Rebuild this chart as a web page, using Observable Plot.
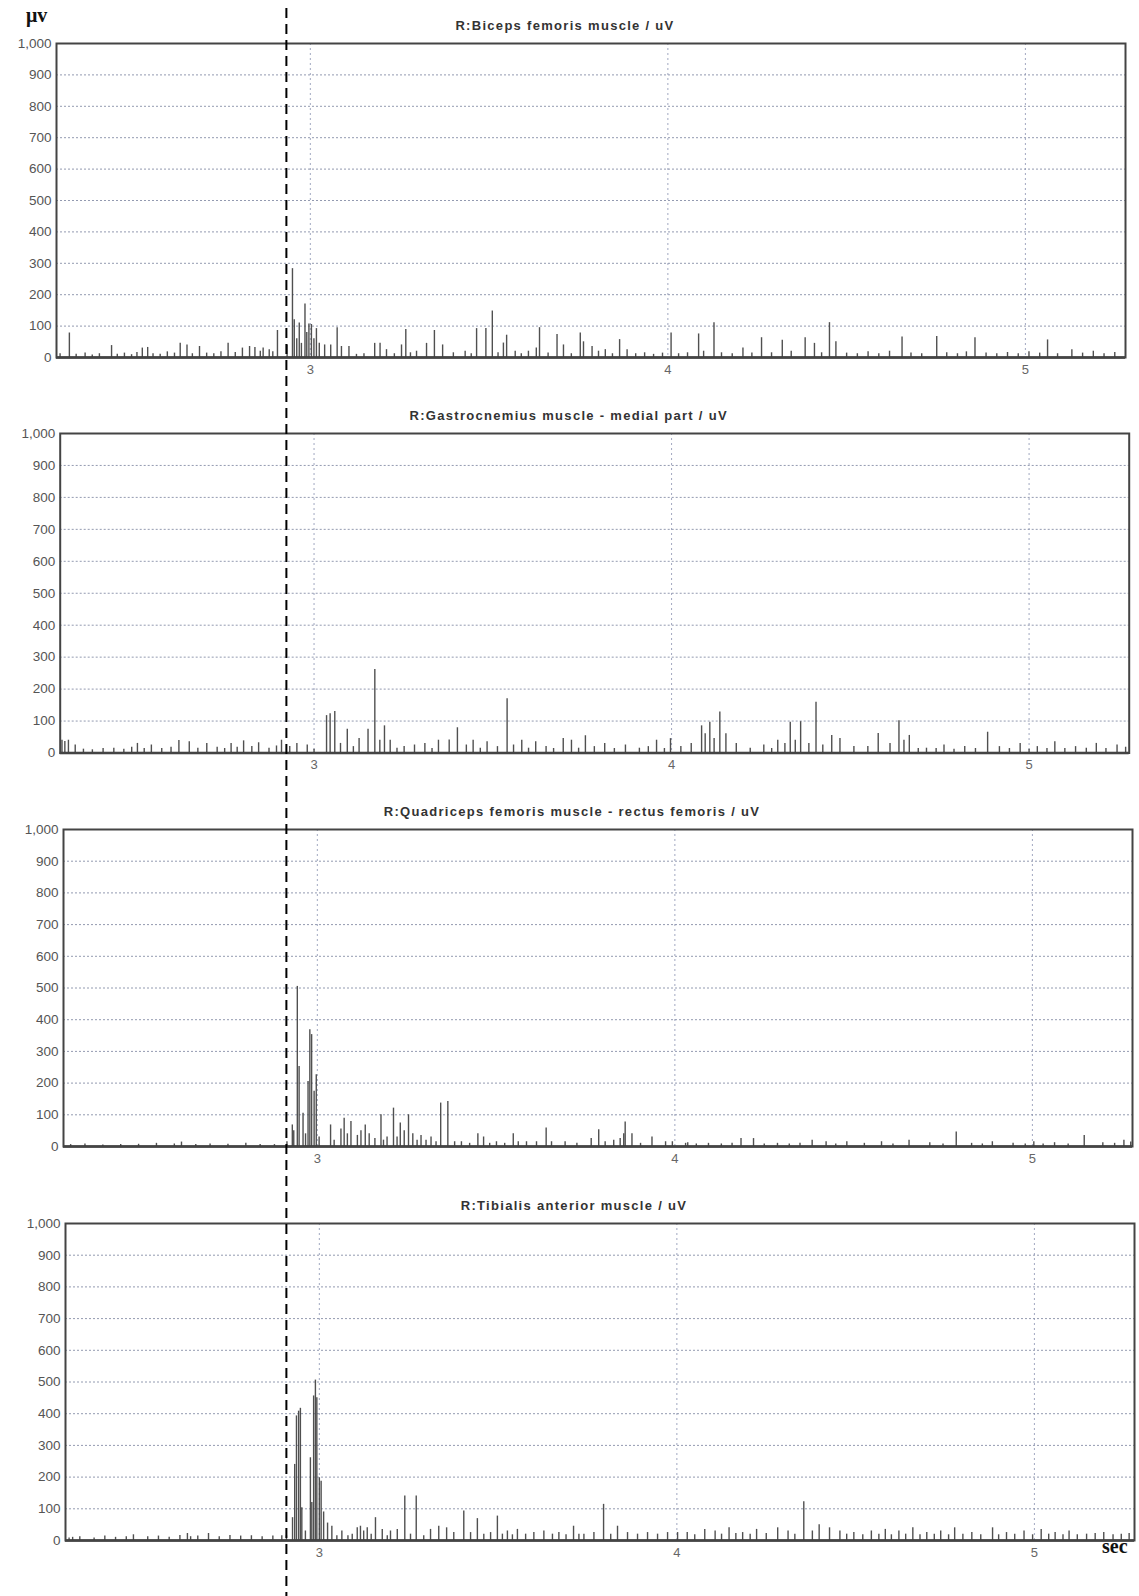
<!DOCTYPE html>
<html><head><meta charset="utf-8">
<script src="https://cdn.jsdelivr.net/npm/d3@7"></script>
<script src="https://cdn.jsdelivr.net/npm/@observablehq/plot@0.6"></script>
<style>
body{margin:0;background:#fff;}
#page{position:relative;width:1139px;height:1596px;overflow:hidden;font-family:Arial,"Liberation Sans",sans-serif;}
#page svg{position:absolute;left:0;}
.unit{position:absolute;font-family:"Liberation Serif","DejaVu Serif",serif;font-weight:bold;font-size:20px;color:#111;line-height:1;}
</style></head><body><div id="page"></div>
<script>
// ---------- data ----------
const panelTitles = [
  "R:Biceps femoris muscle / uV",
  "R:Gastrocnemius muscle - medial part / uV",
  "R:Quadriceps femoris muscle - rectus femoris / uV",
  "R:Tibialis anterior muscle / uV"
];
const yTicks = [0,100,200,300,400,500,600,700,800,900,1000];
const xTicks = [3,4,5];
const xDomain = [2.29, 5.28];
const yDomain = [0, 1000];
const markerTime = 2.933;
const yUnit = "μv";
const xUnit = "sec";

// [time (s), amplitude (uV)]
const biceps = [
 [2.300,12],[2.326,78],[2.345,10],[2.370,14],[2.390,8],[2.410,12],[2.444,38],[2.460,10],[2.480,14],[2.500,9],
 [2.515,16],[2.530,30],[2.545,32],[2.560,12],[2.580,10],[2.600,18],[2.620,14],[2.636,45],[2.655,40],[2.670,12],
 [2.690,35],[2.710,14],[2.730,12],[2.750,18],[2.770,45],[2.790,16],[2.810,30],[2.830,35],[2.845,32],[2.860,20],
 [2.868,30],[2.885,25],[2.895,18],[2.908,86],[2.935,40],[2.950,283],[2.955,120],[2.962,60],[2.969,110],[2.975,45],
 [2.985,170],[2.990,80],[2.996,107],[3.003,105],[3.010,60],[3.017,92],[3.025,45],[3.040,40],[3.057,40],[3.075,95],
 [3.087,35],[3.108,35],[3.129,10],[3.150,12],[3.180,45],[3.195,45],[3.213,25],[3.235,12],[3.255,40],[3.267,89],
 [3.280,15],[3.297,20],[3.325,45],[3.347,86],[3.370,40],[3.400,15],[3.433,20],[3.450,12],[3.465,92],[3.491,92],
 [3.509,148],[3.525,15],[3.540,46],[3.549,71],[3.573,20],[3.590,12],[3.610,20],[3.632,30],[3.641,95],[3.665,14],
 [3.690,73],[3.708,40],[3.730,12],[3.755,78],[3.764,50],[3.788,35],[3.806,20],[3.825,25],[3.845,12],[3.865,57],
 [3.886,25],[3.910,12],[3.935,15],[3.960,10],[3.985,14],[4.009,78],[4.030,12],[4.055,15],[4.086,75],[4.100,20],
 [4.129,111],[4.150,15],[4.180,12],[4.210,30],[4.235,14],[4.262,63],[4.290,15],[4.320,55],[4.345,20],[4.384,63],
 [4.410,45],[4.430,15],[4.452,111],[4.470,50],[4.500,14],[4.530,12],[4.560,18],[4.590,12],[4.620,20],[4.655,65],
 [4.680,14],[4.710,12],[4.752,67],[4.780,15],[4.810,12],[4.835,18],[4.859,63],[4.890,14],[4.920,12],[4.950,16],
 [4.980,12],[5.010,18],[5.040,14],[5.062,56],[5.090,12],[5.130,25],[5.160,14],[5.190,20],[5.220,12],[5.250,16]
];
const gastrocnemius = [
 [2.295,40],[2.303,36],[2.313,40],[2.332,25],[2.355,12],[2.380,10],[2.410,14],[2.440,15],[2.468,12],[2.490,18],
 [2.506,30],[2.525,14],[2.545,25],[2.574,14],[2.600,18],[2.622,39],[2.651,35],[2.675,15],[2.700,30],[2.729,18],
 [2.750,14],[2.768,30],[2.785,18],[2.803,38],[2.826,20],[2.845,32],[2.874,15],[2.895,22],[2.909,40],[2.932,20],
 [2.952,30],[2.981,25],[3.000,12],[3.035,117],[3.045,123],[3.058,130],[3.074,30],[3.093,74],[3.110,20],[3.126,45],
 [3.151,74],[3.170,261],[3.184,40],[3.197,85],[3.213,40],[3.232,15],[3.252,20],[3.281,25],[3.310,30],[3.330,14],
 [3.348,40],[3.378,41],[3.401,79],[3.426,25],[3.445,40],[3.465,15],[3.484,35],[3.513,20],[3.540,170],[3.558,25],
 [3.581,40],[3.600,15],[3.620,35],[3.649,20],[3.670,14],[3.697,45],[3.720,40],[3.740,15],[3.759,54],[3.784,20],
 [3.813,30],[3.840,14],[3.871,25],[3.910,15],[3.935,20],[3.958,40],[3.980,14],[3.997,45],[4.026,20],[4.055,30],
 [4.084,85],[4.094,60],[4.107,96],[4.119,45],[4.135,128],[4.152,60],[4.181,30],[4.220,15],[4.258,25],[4.280,14],
 [4.297,40],[4.317,30],[4.332,96],[4.346,40],[4.361,98],[4.384,30],[4.404,159],[4.423,25],[4.448,55],[4.471,45],
 [4.510,20],[4.549,20],[4.578,61],[4.611,30],[4.636,101],[4.650,40],[4.665,55],[4.690,14],[4.713,15],[4.740,14],
 [4.762,25],[4.790,12],[4.820,20],[4.850,14],[4.884,65],[4.917,20],[4.945,14],[4.975,30],[5.000,12],[5.023,20],
 [5.050,14],[5.072,35],[5.100,14],[5.130,20],[5.160,15],[5.188,30],[5.215,14],[5.246,25],[5.270,18]
];
const quadriceps = [
 [2.310,6],[2.350,8],[2.400,5],[2.450,6],[2.500,7],[2.550,10],[2.600,8],[2.620,14],[2.660,6],[2.700,8],
 [2.750,7],[2.800,10],[2.840,6],[2.880,6],[2.915,15],[2.930,68],[2.934,50],[2.944,505],[2.949,252],[2.960,105],
 [2.967,40],[2.974,205],[2.979,368],[2.984,353],[2.991,174],[2.997,226],[3.005,30],[3.037,68],[3.047,20],[3.066,55],
 [3.075,89],[3.084,40],[3.094,79],[3.112,35],[3.122,50],[3.134,68],[3.145,40],[3.161,25],[3.178,100],[3.185,20],
 [3.195,30],[3.213,121],[3.223,30],[3.232,74],[3.243,50],[3.255,100],[3.267,40],[3.279,20],[3.290,35],[3.304,20],
 [3.318,30],[3.332,15],[3.345,137],[3.365,142],[3.384,15],[3.403,15],[3.426,10],[3.449,40],[3.465,30],[3.482,10],
 [3.501,15],[3.524,10],[3.548,40],[3.562,15],[3.585,15],[3.613,15],[3.640,58],[3.655,15],[3.693,15],[3.726,10],
 [3.766,25],[3.787,53],[3.805,15],[3.829,20],[3.847,25],[3.857,40],[3.861,77],[3.880,40],[3.904,10],[3.936,30],
 [3.974,15],[3.993,15],[4.030,10],[4.036,12],[4.060,8],[4.094,10],[4.130,8],[4.160,10],[4.185,25],[4.220,25],
 [4.250,8],[4.287,10],[4.320,8],[4.350,10],[4.384,20],[4.423,15],[4.450,8],[4.481,15],[4.530,10],[4.578,15],
 [4.610,8],[4.655,20],[4.713,12],[4.750,8],[4.787,46],[4.830,10],[4.860,8],[4.888,15],[4.946,10],[4.980,8],
 [5.004,15],[5.030,8],[5.062,12],[5.100,8],[5.145,35],[5.197,12],[5.230,10],[5.256,20],[5.275,14]
];
const tibialis = [
 [2.300,8],[2.310,10],[2.330,12],[2.370,8],[2.400,14],[2.430,10],[2.460,12],[2.480,18],[2.520,12],[2.550,14],
 [2.580,10],[2.610,16],[2.631,22],[2.640,12],[2.660,14],[2.690,22],[2.720,12],[2.750,16],[2.780,14],[2.810,15],
 [2.840,12],[2.870,14],[2.895,15],[2.908,15],[2.925,72],[2.931,240],[2.936,393],[2.942,408],[2.947,417],[2.951,103],
 [2.961,30],[2.975,261],[2.979,120],[2.984,456],[2.989,506],[2.993,450],[3.000,198],[3.005,187],[3.012,90],[3.023,55],
 [3.035,45],[3.049,15],[3.063,30],[3.080,15],[3.092,20],[3.106,40],[3.115,45],[3.124,30],[3.134,40],[3.145,20],
 [3.157,72],[3.176,35],[3.190,15],[3.199,30],[3.218,35],[3.239,140],[3.255,20],[3.271,140],[3.292,15],[3.311,35],
 [3.334,45],[3.356,40],[3.376,25],[3.404,93],[3.423,25],[3.442,69],[3.460,20],[3.479,25],[3.498,77],[3.512,20],
 [3.526,30],[3.540,18],[3.554,35],[3.577,20],[3.600,25],[3.628,30],[3.652,20],[3.670,25],[3.690,18],[3.711,45],
 [3.726,20],[3.740,20],[3.768,25],[3.795,114],[3.815,20],[3.834,45],[3.862,25],[3.890,20],[3.918,25],[3.946,20],
 [3.974,25],[4.002,25],[4.029,25],[4.050,18],[4.078,35],[4.107,30],[4.125,20],[4.146,40],[4.165,22],[4.184,25],
 [4.205,20],[4.223,35],[4.250,22],[4.282,40],[4.311,30],[4.330,20],[4.355,122],[4.379,30],[4.398,50],[4.427,40],
 [4.456,30],[4.475,20],[4.495,25],[4.520,18],[4.544,30],[4.565,20],[4.583,35],[4.600,18],[4.621,30],[4.640,20],
 [4.660,40],[4.680,18],[4.699,25],[4.720,20],[4.738,30],[4.760,18],[4.777,40],[4.800,20],[4.825,25],[4.850,18],
 [4.883,40],[4.900,18],[4.922,25],[4.945,20],[4.971,30],[4.995,18],[5.019,35],[5.040,20],[5.058,25],[5.080,18],
 [5.097,30],[5.120,18],[5.146,20],[5.170,22],[5.194,25],[5.220,18],[5.243,20],[5.265,22]
];
const series = [biceps, gastrocnemius, quadriceps, tibialis];

// ---------- layout ----------
const W = 1139, plotW = 1069, mTop = 30, mBottom = 30;
const layout = [
  {left: 56, top: 42.5, bottom: 356.5},
  {left: 59.7, top: 433, bottom: 752.5},
  {left: 63, top: 829, bottom: 1146},
  {left: 65, top: 1222.5, bottom: 1539.5}
];
const page = document.getElementById("page");
const fmtY = d3.format(",");

series.forEach((rows, i) => {
  const L = layout[i];
  const data = rows.map(([t, v]) => ({t, v}));
  const h = mTop + (L.bottom - L.top) + mBottom;
  const svg = Plot.plot({
    width: W, height: h,
    marginTop: mTop, marginBottom: mBottom, marginLeft: L.left, marginRight: W - L.left - plotW,
    style: {background: "transparent", fontFamily: "Arial, 'Liberation Sans', sans-serif", fontSize: "13px", overflow: "visible"},
    x: {domain: xDomain},
    y: {domain: yDomain},
    marks: [
      Plot.gridY(yTicks.filter(v => v > 0 && v < 1000), {stroke: "#6f7896", strokeOpacity: 0.75, strokeWidth: 1, strokeDasharray: "2,2"}),
      Plot.gridX(xTicks, {stroke: "#8a92b0", strokeOpacity: 0.8, strokeWidth: 1, strokeDasharray: "2,3"}),
      Plot.ruleX(data, {x: "t", y1: 0, y2: "v", stroke: "#3d3d3d", strokeWidth: 1.4, strokeOpacity: 0.9}),
      Plot.ruleY([0], {stroke: "#333", strokeWidth: 2.5}),
      Plot.frame({stroke: "#444", strokeWidth: 2}),
      Plot.axisY(yTicks, {tickSize: 0, tickPadding: 5, tickFormat: fmtY, label: null, color: "#555", fontSize: 13.5}),
      Plot.axisX(xTicks, {tickSize: 0, tickPadding: 7, tickFormat: d => String(d), label: null, color: "#666", fontSize: 13}),
      Plot.text([panelTitles[i]], {frameAnchor: "top", dy: -23, dx: -26, fontWeight: "bold", fontSize: 13, fill: "#333"})
    ]
  });
  d3.select(svg).selectAll("g[aria-label='text'] text").style("letter-spacing", "1.3px");
  svg.style.top = (L.top - mTop) + "px";
  page.appendChild(svg);
});

// dashed marker spanning all panels
const overlay = Plot.plot({
  width: W, height: 1596,
  marginTop: 8, marginBottom: 0, marginLeft: layout[0].left, marginRight: W - layout[0].left - plotW,
  style: {background: "transparent", pointerEvents: "none"},
  x: {domain: xDomain, axis: null},
  y: {domain: [0, 1], axis: null},
  marks: [Plot.ruleX([markerTime], {stroke: "#000", strokeWidth: 2, strokeDasharray: "10,6"})]
});
overlay.style.top = "0px";
page.appendChild(overlay);

const yu = document.createElement("div");
yu.className = "unit"; yu.textContent = yUnit;
yu.style.left = "26px"; yu.style.top = "5px";
page.appendChild(yu);
const xu = document.createElement("div");
xu.className = "unit"; xu.textContent = xUnit;
xu.style.left = "1102px"; xu.style.top = "1536px";
page.appendChild(xu);
</script></body></html>
